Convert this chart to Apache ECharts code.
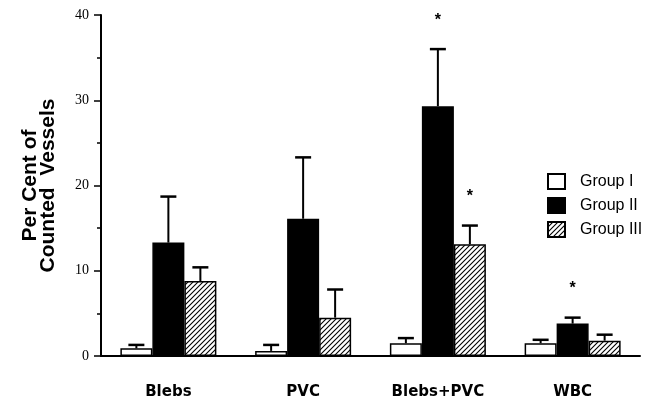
<!DOCTYPE html>
<html>
<head>
<meta charset="utf-8">
<script src="https://cdn.jsdelivr.net/npm/echarts@6/dist/echarts.min.js"></script>
<style>
  html, body { margin: 0; padding: 0; background: #fff; }
  #chart { width: 645px; height: 401px; }
</style>
</head>
<body>
<div id="chart"></div>
<script>
// data
const categories = ["Blebs", "PVC", "Blebs+PVC", "WBC"];
const groups = ["Group I", "Group II", "Group III"];
const group1 = [0.9, 0.6, 1.5, 1.5];
const group2 = [13.3, 16.1, 29.3, 3.8];
const group3 = [8.8, 4.5, 13.1, 1.8];
// top of the error bar (mean + SE)
const group1Err = [1.3, 1.3, 2.1, 1.9];
const group2Err = [18.7, 23.3, 36.0, 4.5];
const group3Err = [10.4, 7.8, 15.3, 2.5];
// asterisks: [category index, group index, y]
const stars = [[2, 1, 39.4], [2, 2, 18.7], [3, 1, 7.9]];
const yTicks = [0, 10, 20, 30, 40];

const BAR_W = 32;

function hatch() {
  const c = document.createElement("canvas");
  c.width = 5; c.height = 5;
  const g = c.getContext("2d");
  g.fillStyle = "#fff";
  g.fillRect(0, 0, 5, 5);
  g.strokeStyle = "#000";
  g.lineWidth = 1.1;
  g.beginPath();
  g.moveTo(0, 5); g.lineTo(5, 0);
  g.moveTo(-1, 1); g.lineTo(1, -1);
  g.moveTo(4, 6); g.lineTo(6, 4);
  g.stroke();
  return c;
}

const styles = [
  { color: "#fff", borderColor: "#000", borderWidth: 1.5 },
  { color: "#000", borderColor: "#000", borderWidth: 1.5 },
  { color: { image: hatch(), repeat: "repeat" }, borderColor: "#000", borderWidth: 1.5 }
];

const means = [group1, group2, group3];
const errs = [group1Err, group2Err, group3Err];

function errSeries(gi) {
  return {
    type: "custom",
    z: 5,
    silent: true,
    data: categories.map((c, i) => [i, means[gi][i], errs[gi][i]]),
    renderItem(params, api) {
      const i = api.value(0);
      const off = (gi - 1) * BAR_W;
      const base = api.coord([i, api.value(1)]);
      const top = api.coord([i, api.value(2)]);
      const x = base[0] + off;
      return {
        type: "group",
        children: [
          { type: "line", shape: { x1: x, y1: base[1], x2: x, y2: top[1] }, style: { stroke: "#000", lineWidth: 2 } },
          { type: "line", shape: { x1: x - 8, y1: top[1], x2: x + 8, y2: top[1] }, style: { stroke: "#000", lineWidth: 2.5 } }
        ]
      };
    }
  };
}

const series = groups.map((name, gi) => ({
  name: name,
  type: "bar",
  barWidth: BAR_W,
  barGap: "0%",
  data: means[gi],
  itemStyle: styles[gi]
}));
[0, 1, 2].forEach(gi => series.push(errSeries(gi)));
series.push({
  type: "custom",
  z: 6,
  silent: true,
  data: stars,
  renderItem(params, api) {
    const p = api.coord([api.value(0), api.value(2)]);
    return {
      type: "text",
      x: p[0] + (api.value(1) - 1) * BAR_W,
      y: p[1],
      style: { text: "*", fill: "#000", font: "bold 16px Arial", align: "center", verticalAlign: "middle" }
    };
  }
});

const chart = echarts.init(document.getElementById("chart"));
chart.setOption({
  animation: false,
  backgroundColor: "#fff",
  grid: { left: 101, right: 5, top: 15, bottom: 45, outerBoundsMode: "none", containLabel: false },
  legend: {
    orient: "vertical",
    left: 542,
    top: 168,
    icon: "rect",
    itemWidth: 17,
    itemHeight: 15,
    itemGap: 7,
    data: groups,
    textStyle: { fontFamily: "Arial", fontSize: 16, color: "#000", padding: [0, 0, 0, 10] }
  },
  xAxis: {
    type: "category",
    data: categories,
    axisLine: { lineStyle: { color: "#000", width: 2 } },
    axisTick: { show: false },
    axisLabel: { color: "#000", fontFamily: "DejaVu Sans", fontWeight: "bold", fontSize: 15, margin: 29 }
  },
  yAxis: {
    type: "value",
    min: 0,
    max: 40,
    interval: 10,
    name: "Per Cent of\nCounted  Vessels",
    nameLocation: "middle",
    nameRotate: 90,
    nameGap: 44,
    nameTextStyle: { fontFamily: "Arial", fontWeight: "bold", fontSize: 21, lineHeight: 18, color: "#000" },
    axisLine: { show: true, lineStyle: { color: "#000", width: 2 } },
    axisTick: { show: true, length: 7, lineStyle: { color: "#000", width: 1.5 } },
    minorTick: { show: true, splitNumber: 2, length: 4, lineStyle: { color: "#000", width: 1.5 } },
    splitLine: { show: false },
    axisLabel: {
      color: "#000", fontFamily: "Liberation Serif", fontSize: 14, margin: 12,
      formatter: v => (yTicks.indexOf(v) >= 0 ? String(v) : "")
    }
  },
  series: series
});
</script>
</body>
</html>
